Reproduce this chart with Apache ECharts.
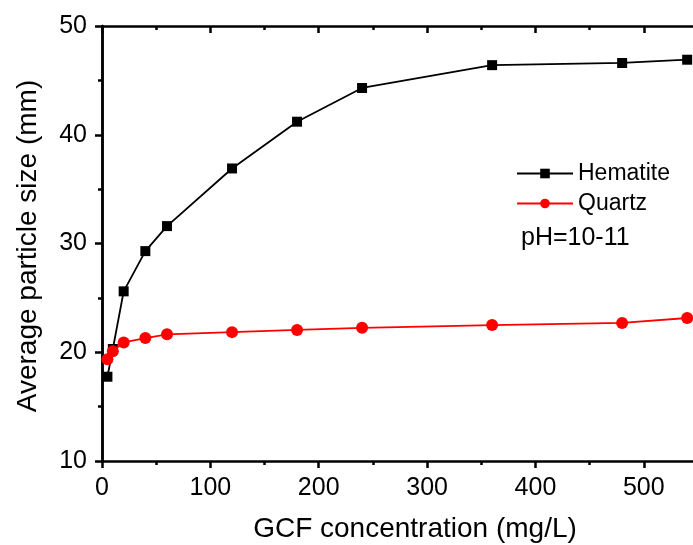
<!DOCTYPE html>
<html><head><meta charset="utf-8">
<script src="https://cdn.jsdelivr.net/npm/echarts@6/dist/echarts.min.js"></script>
<style>html,body{margin:0;padding:0;background:#fff}#c{width:693px;height:545px}</style>
</head><body><div id="c"></div>
<script>
const concentration = [5, 10, 20, 40, 60, 120, 180, 240, 360, 480, 540];
const hematite = [17.75, 20.3, 25.6, 29.3, 31.6, 36.9, 41.2, 44.3, 46.4, 46.6, 46.9];
const quartz = [19.35, 20.1, 20.9, 21.3, 21.65, 21.85, 22.05, 22.25, 22.5, 22.7, 23.15];
const xTicks = [0, 100, 200, 300, 400, 500];
const yTicks = [10, 20, 30, 40, 50];
const seriesNames = ['Hematite', 'Quartz'];
const noteText = 'pH=10-11';
const xTitle = 'GCF concentration (mg/L)';
const yTitle = 'Average particle size (mm)';

const FONT = '"Liberation Sans", Arial, sans-serif';
const chart = echarts.init(document.getElementById('c'), null, {renderer: 'canvas'});
const pairs = a => concentration.map((x, i) => [x, a[i]]);
const axLine = {show: true, lineStyle: {color: '#000', width: 2.5}};
const lbl = {color: '#000', fontSize: 25, fontFamily: FONT};
chart.setOption({
  animation: false,
  grid: {left: 102, top: 26, width: 596, height: 435, containLabel: false, outerBoundsMode: 'none'},
  xAxis: [
    {type: 'value', min: 0, max: 550, interval: 100, position: 'bottom',
     axisLine: axLine, splitLine: {show: false},
     axisTick: {show: true, inside: false, length: 7, lineStyle: {width: 2.5}},
     minorTick: {show: true, splitNumber: 2, length: 4, lineStyle: {width: 2.5, color: '#000'}},
     axisLabel: Object.assign({margin: 15, formatter: v => xTicks.includes(v) ? String(v) : ''}, lbl)},
    {type: 'value', min: 0, max: 550, interval: 100, position: 'top',
     axisLine: axLine, splitLine: {show: false},
     axisTick: {show: true, inside: true, length: 7, lineStyle: {width: 2.5}},
     minorTick: {show: true, splitNumber: 2, length: 4, lineStyle: {width: 2.5, color: '#000'}},
     axisLabel: {show: false}}
  ],
  yAxis: [
    {type: 'value', min: 10, max: 50, interval: 10, position: 'left',
     axisLine: axLine, splitLine: {show: false},
     axisTick: {show: true, inside: false, length: 7, lineStyle: {width: 2.5}},
     minorTick: {show: true, splitNumber: 2, length: 4, lineStyle: {width: 2.5, color: '#000'}},
     axisLabel: Object.assign({margin: 15, formatter: v => yTicks.includes(v) ? String(v) : ''}, lbl)},
    {type: 'value', min: 10, max: 50, interval: 10, position: 'right',
     axisLine: axLine, splitLine: {show: false},
     axisTick: {show: true, inside: true, length: 7, lineStyle: {width: 2.5}},
     minorTick: {show: true, splitNumber: 2, length: 4, lineStyle: {width: 2.5, color: '#000'}},
     axisLabel: {show: false}}
  ],
  legend: {
    orient: 'vertical', left: 516, top: 162, padding: 0, itemWidth: 56, itemHeight: 12, itemGap: 7,
    textStyle: {color: '#000', fontSize: 23, fontFamily: FONT},
    data: seriesNames
  },
  graphic: [
    {type: 'text', left: 521, top: 226, style: {text: noteText, fontSize: 25, fontFamily: FONT, fill: '#000'}},
    {type: 'text', x: 415, y: 529, style: {text: xTitle, fontSize: 28, fontFamily: FONT, fill: '#000', align: 'center', verticalAlign: 'middle'}},
    {type: 'text', x: 28, y: 246, rotation: Math.PI / 2, style: {text: yTitle, fontSize: 28, fontFamily: FONT, fill: '#000', align: 'center', verticalAlign: 'middle'}}
  ],
  series: [
    {name: seriesNames[0], type: 'line', data: pairs(hematite), symbol: 'rect', symbolSize: 10,
     itemStyle: {color: '#000'}, lineStyle: {color: '#000', width: 1.8}, z: 3},
    {name: seriesNames[1], type: 'line', data: pairs(quartz), symbol: 'circle', symbolSize: 12,
     itemStyle: {color: '#ff0000'}, lineStyle: {color: '#ff0000', width: 1.8}, z: 4}
  ]
});
</script></body></html>
